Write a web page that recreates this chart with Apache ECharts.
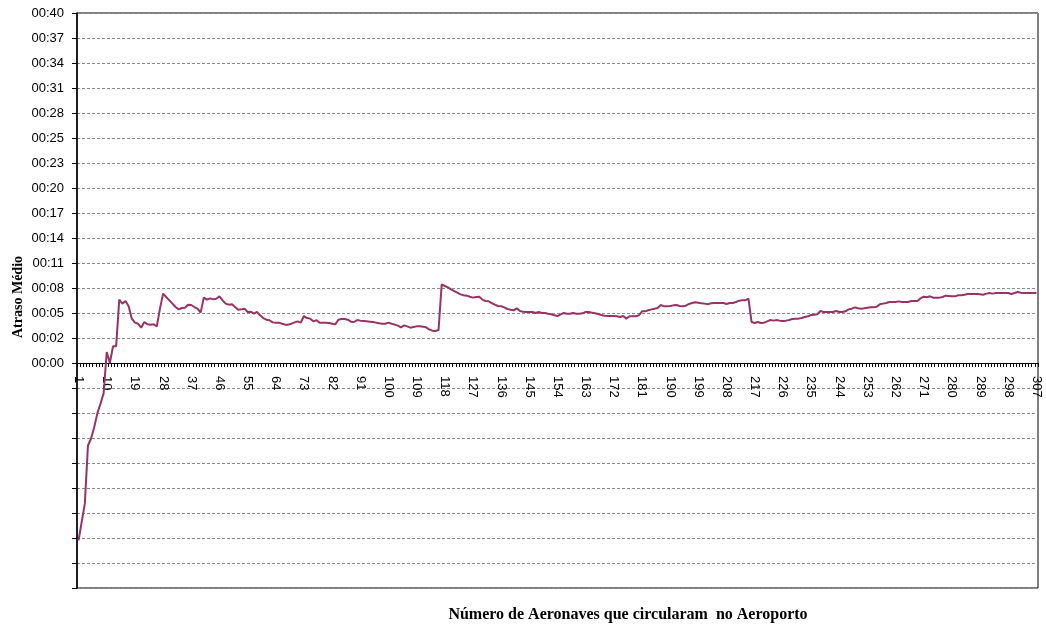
<!DOCTYPE html>
<html>
<head>
<meta charset="utf-8">
<title>Atraso Médio</title>
<script src="https://cdn.jsdelivr.net/npm/echarts@6/dist/echarts.min.js"></script>
<style>
  html, body { margin: 0; padding: 0; background: #fff; }
  #chart { width: 1046px; height: 628px; }
</style>
</head>
<body>
<div id="chart"></div>
<script>
// average delay in minutes, one value per aircraft count (1..307)
var delay1to60 = [
  -20.43, -18.3, -16.2, -9.5, -8.7, -7.4, -5.8, -4.7, -3.5, 1.27,
  0.0, 1.92, 1.92, 7.30, 6.84, 7.14, 6.53, 5.11, 4.65, 4.53,
  4.07, 4.72, 4.45, 4.42, 4.45, 4.22, 6.26, 7.99, 7.60, 7.22,
  6.84, 6.45, 6.18, 6.34, 6.37, 6.72, 6.68, 6.45, 6.26, 5.80,
  7.53, 7.30, 7.45, 7.33, 7.41, 7.68, 7.22, 6.84, 6.72, 6.76,
  6.45, 6.14, 6.18, 6.26, 5.88, 5.91, 5.68, 5.88, 5.49, 5.18
];
var delay61to120 = [
  4.99, 4.92, 4.68, 4.65, 4.65, 4.53, 4.42, 4.42, 4.53, 4.68,
  4.80, 4.65, 5.41, 5.18, 5.11, 4.80, 4.92, 4.65, 4.65, 4.65,
  4.61, 4.53, 4.45, 4.99, 5.07, 5.07, 4.99, 4.76, 4.72, 4.95,
  4.88, 4.84, 4.80, 4.76, 4.72, 4.65, 4.57, 4.53, 4.53, 4.65,
  4.53, 4.42, 4.30, 4.11, 4.34, 4.22, 4.07, 4.15, 4.22, 4.22,
  4.19, 4.11, 3.88, 3.72, 3.69, 3.80, 9.06, 8.87, 8.72, 8.49
];
var delay121to180 = [
  8.29, 8.10, 7.91, 7.80, 7.76, 7.64, 7.53, 7.60, 7.64, 7.30,
  7.14, 7.10, 6.91, 6.72, 6.57, 6.53, 6.41, 6.22, 6.14, 6.07,
  6.30, 5.99, 5.91, 5.88, 5.88, 5.88, 5.76, 5.88, 5.76, 5.76,
  5.68, 5.61, 5.49, 5.41, 5.61, 5.76, 5.68, 5.68, 5.76, 5.68,
  5.68, 5.72, 5.88, 5.88, 5.80, 5.72, 5.64, 5.53, 5.45, 5.41,
  5.41, 5.41, 5.38, 5.30, 5.41, 5.11, 5.38, 5.38, 5.38, 5.49
];
var delay181to240 = [
  5.95, 5.95, 6.07, 6.18, 6.26, 6.34, 6.68, 6.53, 6.53, 6.57,
  6.64, 6.68, 6.57, 6.53, 6.60, 6.80, 6.91, 6.99, 6.95, 6.87,
  6.84, 6.76, 6.87, 6.91, 6.91, 6.91, 6.91, 6.80, 6.91, 6.91,
  7.03, 7.18, 7.22, 7.22, 7.41, 4.72, 4.61, 4.72, 4.61, 4.65,
  4.80, 4.95, 4.88, 4.95, 4.88, 4.84, 4.88, 4.95, 5.07, 5.11,
  5.11, 5.18, 5.30, 5.38, 5.53, 5.57, 5.61, 5.99, 5.88, 5.88
];
var delay241to307 = [
  5.88, 5.88, 5.99, 5.88, 5.88, 5.95, 6.18, 6.26, 6.41, 6.30,
  6.26, 6.30, 6.37, 6.41, 6.41, 6.49, 6.76, 6.84, 6.91, 7.03,
  7.03, 7.03, 7.10, 7.03, 7.03, 7.03, 7.14, 7.14, 7.14, 7.45,
  7.64, 7.58, 7.68, 7.53, 7.53, 7.53, 7.60, 7.76, 7.72, 7.68,
  7.68, 7.80, 7.80, 7.87, 7.95, 7.95, 7.95, 7.95, 7.91, 7.87,
  7.99, 8.06, 7.99, 8.06, 8.06, 8.06, 8.06, 8.06, 7.95, 8.06,
  8.18, 8.10, 8.06, 8.06, 8.06, 8.06, 8.06
];
var delays = delay1to60.concat(delay61to120, delay121to180, delay181to240, delay241to307);

var aircraft = [];
for (var n = 1; n <= delays.length; n++) aircraft.push(String(n));

// y axis: 0.002 day steps (2.88 min), shown as hh:mm
var yMin = -25.92, yMax = 40.32, yStep = 2.88;

var lineColor = '#993366';
var gridColor = '#8c8c8c';

var gridTop = 13, gridBottom = 40, chartH = 628;
var plotH = chartH - gridTop - gridBottom;
// distance of the zero line above the bottom of the plot, so the category
// axis (line, ticks and labels) sits at 00:00 like in the original
var zeroOffset = plotH * (0 - yMin) / (yMax - yMin);

var chart = echarts.init(document.getElementById('chart'), null, { renderer: 'canvas' });

function fmtTime(v) {
  if (v < -0.001) return '';
  var m = Math.floor(v + 1e-6);
  return '00:' + (m < 10 ? '0' + m : m);
}

chart.setOption({
  backgroundColor: '#ffffff',
  animation: false,
  grid: {
    left: 77,
    top: gridTop,
    right: 8,
    bottom: gridBottom,
    show: true,
    borderColor: '#000',
    borderWidth: 1,
    backgroundColor: 'transparent'
  },
  xAxis: {
    type: 'category',
    data: aircraft,
    boundaryGap: true,
    position: 'bottom',
    offset: -zeroOffset,
    axisLine: { onZero: false, lineStyle: { color: '#000', width: 1 } },
    axisTick: { show: true, interval: 0, length: 4, lineStyle: { color: '#000' } },
    axisLabel: {
      interval: 8,
      rotate: -90,
      margin: 13,
      color: '#000',
      fontFamily: 'Liberation Sans, Arial, sans-serif',
      fontSize: 13
    },
    splitLine: { show: false }
  },
  yAxis: {
    type: 'value',
    min: yMin,
    max: yMax,
    interval: yStep,
    axisLine: { show: true, lineStyle: { color: '#000', width: 1.5 } },
    axisTick: { show: true, length: 5, lineStyle: { color: '#000' } },
    axisLabel: {
      formatter: fmtTime,
      margin: 13,
      color: '#000',
      fontFamily: 'Liberation Sans, Arial, sans-serif',
      fontSize: 13
    },
    splitLine: { lineStyle: { color: gridColor, type: [3, 2], width: 1 } }
  },
  graphic: [
    {
      type: 'text',
      x: 18,
      y: 297,
      rotation: Math.PI / 2,
      style: {
        text: 'Atraso Médio',
        fill: '#000',
        font: 'bold 14px "Liberation Serif", "Times New Roman", serif',
        align: 'center',
        verticalAlign: 'middle'
      }
    },
    {
      type: 'text',
      x: 628,
      y: 615,
      style: {
        text: 'Número de Aeronaves que circularam  no Aeroporto',
        fill: '#000',
        font: 'bold 16px "Liberation Serif", "Times New Roman", serif',
        align: 'center',
        verticalAlign: 'middle'
      }
    }
  ],
  series: [
    {
      name: 'Atraso Médio',
      type: 'line',
      data: delays,
      showSymbol: false,
      smooth: false,
      lineStyle: { color: lineColor, width: 2 },
      itemStyle: { color: lineColor }
    }
  ]
});
</script>
</body>
</html>
